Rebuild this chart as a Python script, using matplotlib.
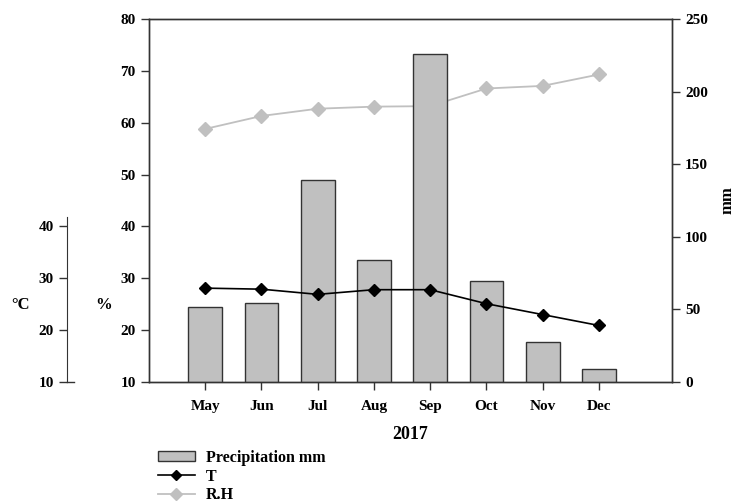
import matplotlib
matplotlib.use("Agg")
import matplotlib.pyplot as plt
from matplotlib.lines import Line2D
from matplotlib.patches import Patch

months = ["May", "Jun", "Jul", "Aug", "Sep", "Oct", "Nov", "Dec"]
precip_mm = [51.4, 54.1, 139, 84, 226, 69.7, 27.7, 8.9]
temp_c = [28.1, 27.9, 26.9, 27.8, 27.8, 25.1, 23.0, 20.9]
rh_pct = [58.8, 61.3, 62.7, 63.1, 63.2, 66.6, 67.1, 69.3]
pct_ticks = [10, 20, 30, 40, 50, 60, 70, 80]
mm_ticks = [0, 50, 100, 150, 200, 250]
c_ticks = [10, 20, 30, 40]

plt.rcParams['font.family'] = ['Liberation Serif', 'DejaVu Serif']
plt.rcParams['font.weight'] = 'bold'
plt.rcParams['font.size'] = 11

TS = 11
fig = plt.figure(figsize=(7.35, 5.04), dpi=100)
W, H = 735, 504
L, R, T, B = 149, 672, 19, 382
ax = fig.add_axes([L / W, 1 - B / H, (R - L) / W, (B - T) / H])
x = list(range(len(months)))

# RH on % axis (drawn behind bars)
ax.plot(x, rh_pct, color='#c0c0c0', marker='D', markersize=7, lw=1.3,
        markeredgecolor='#c0c0c0', zorder=2)
ax.set_ylim(10, 80)
ax.set_xlim(-1, 8.3)
ax.set_yticks(pct_ticks)
ax.set_xticks(x)
ax.set_xticklabels(months, fontweight='bold')
ax.tick_params(axis='both', direction='out', length=6, width=1, color='#333333', labelsize=TS)
ax.tick_params(axis='x', pad=7)
for s in ax.spines.values():
    s.set_color('#333333')
    s.set_linewidth(1)

# Precipitation on mm axis
ax2 = ax.twinx()
ax2.bar(x, precip_mm, width=0.6, color='#c0c0c0', edgecolor='#333333', linewidth=1, zorder=2)
ax2.set_ylim(0, 250)
ax2.set_yticks(mm_ticks)
ax2.tick_params(axis='y', direction='out', length=6, width=1, color='#333333', labelsize=TS)
for s in ax2.spines.values():
    s.set_color('#333333')
    s.set_linewidth(1)

# Temperature on °C axis (on top)
ax3 = ax.twinx()
ax3.plot(x, temp_c, color='black', marker='D', markersize=6, lw=1.2, zorder=3)
ax3.set_ylim(10, 80)
ax3.yaxis.set_ticks_position('left')
ax3.yaxis.set_label_position('left')
ax3.spines['left'].set_position(('axes', (67 - L) / (R - L)))
ax3.spines['left'].set_bounds(10, 41.8)
ax3.spines['left'].set_visible(True)
ax3.spines['left'].set_color('#333333')
for k in ['right', 'top', 'bottom']:
    ax3.spines[k].set_visible(False)
ax3.set_yticks(c_ticks)
ax3.tick_params(axis='y', direction='out', length=6, width=1, color='#333333', labelsize=TS)
stub = Line2D([(67 - L) / (R - L), (74 - L) / (R - L)], [10, 10], color='#333333', lw=1,
              transform=ax3.get_yaxis_transform(which='grid'), clip_on=False)
ax3.add_line(stub)

for a in (ax, ax2, ax3):
    for lab in a.get_yticklabels() + a.get_xticklabels():
        lab.set_fontweight('bold')

# Axis titles
fig.text(21 / W, 1 - 305 / H, '°C', ha='center', va='center', fontsize=12, fontweight='bold')
fig.text(104 / W, 1 - 305 / H, '%', ha='center', va='center', fontsize=12, fontweight='bold')
fig.text(728 / W, 1 - 200 / H, 'mm', ha='center', va='center', fontsize=12, fontweight='bold', rotation=90)
ax.set_xlabel('2017', fontsize=13, fontweight='bold', labelpad=9)

handles = [Patch(facecolor='#c0c0c0', edgecolor='#333333', linewidth=1),
           Line2D([], [], color='black', marker='D', markersize=5, lw=1.2),
           Line2D([], [], color='#c0c0c0', marker='D', markersize=6, lw=1.3)]
fig.legend(handles, ['Precipitation mm', 'T', 'R.H'], loc='upper left',
           bbox_to_anchor=(158 / W, 1 - 450 / H), frameon=False,
           handlelength=2.3, handleheight=0.6, labelspacing=0.16, borderpad=0,
           borderaxespad=0, handletextpad=0.7,
           prop={'weight': 'bold', 'size': 11.5})

fig.savefig('out.png', dpi=100)
